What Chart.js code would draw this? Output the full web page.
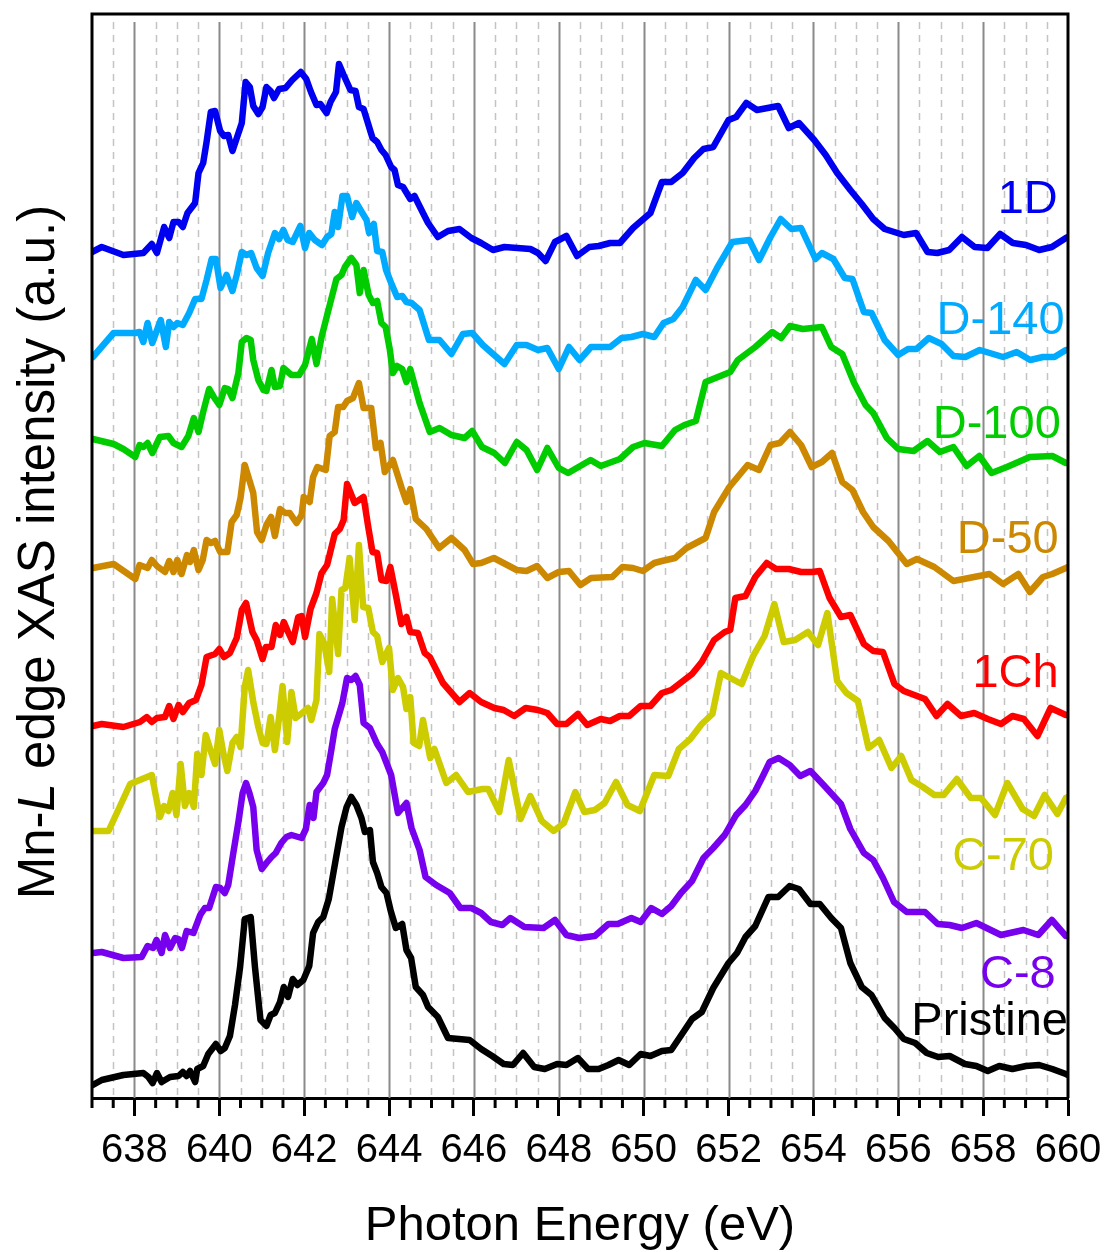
<!DOCTYPE html>
<html>
<head>
<meta charset="utf-8">
<title>Mn-L edge XAS</title>
<script src="https://cdn.jsdelivr.net/npm/chart.js@4.4.1/dist/chart.umd.min.js"></script>
<style>
  html, body { margin: 0; padding: 0; background: #fff; }
</style>
</head>
<body>
<canvas id="xas" width="1106" height="1252"></canvas>
<script>
// energy window and labelled ticks (eV)
const eMin = 637, eMax = 660;
const tickLabels = [638, 640, 642, 644, 646, 648, 650, 652, 654, 656, 658, 660];

// stacked spectra, [photon energy (eV), intensity (a.u., offset)]
const spec1D = [[637.00,8.46],[637.23,8.51],[637.74,8.43],[638.21,8.45],[638.41,8.54],[638.53,8.45],[638.70,8.71],[638.82,8.60],[638.92,8.76],[639.04,8.76],[639.14,8.71],[639.25,8.85],[639.43,8.95],[639.51,9.25],[639.62,9.35],[639.70,9.56],[639.80,9.86],[639.90,9.87],[640.02,9.67],[640.11,9.62],[640.21,9.63],[640.31,9.47],[640.53,9.75],[640.62,10.16],[640.72,10.11],[640.80,9.92],[640.92,9.84],[641.02,9.91],[641.11,10.11],[641.21,10.07],[641.29,10.00],[641.41,10.09],[641.56,10.10],[641.72,10.18],[641.92,10.26],[642.05,10.19],[642.16,10.06],[642.29,9.93],[642.38,9.94],[642.53,9.85],[642.62,9.96],[642.75,10.06],[642.82,10.34],[642.93,10.23],[643.09,10.08],[643.21,10.07],[643.29,9.91],[643.40,9.89],[643.61,9.60],[643.72,9.56],[643.82,9.48],[643.92,9.43],[644.05,9.31],[644.13,9.28],[644.21,9.13],[644.33,9.11],[644.50,8.99],[644.60,9.02],[644.80,8.85],[644.92,8.75],[645.15,8.61],[645.39,8.67],[645.66,8.69],[645.94,8.60],[646.17,8.55],[646.45,8.48],[646.72,8.51],[647.33,8.49],[647.51,8.45],[647.69,8.37],[647.91,8.56],[648.18,8.62],[648.43,8.42],[648.72,8.51],[648.94,8.52],[649.21,8.55],[649.44,8.55],[649.75,8.70],[650.16,8.85],[650.43,9.16],[650.65,9.16],[650.92,9.25],[651.19,9.40],[651.41,9.49],[651.64,9.51],[652.00,9.78],[652.18,9.81],[652.42,9.95],[652.67,9.88],[653.17,9.92],[653.42,9.70],[653.66,9.75],[654.02,9.58],[654.29,9.43],[654.56,9.25],[654.87,9.08],[655.14,8.94],[655.41,8.79],[655.68,8.69],[656.13,8.63],[656.42,8.65],[656.69,8.46],[656.92,8.45],[657.20,8.48],[657.50,8.61],[657.80,8.51],[658.10,8.50],[658.40,8.64],[658.70,8.55],[659.01,8.53],[659.32,8.48],[659.62,8.51],[659.95,8.60],[660.00,8.61]];

const specD140 = [[637.02,7.41],[637.51,7.65],[638.02,7.65],[638.12,7.66],[638.21,7.56],[638.31,7.75],[638.42,7.55],[638.62,7.78],[638.74,7.51],[638.82,7.76],[638.92,7.71],[639.01,7.75],[639.14,7.73],[639.29,7.85],[639.43,7.99],[639.58,7.99],[639.70,8.18],[639.82,8.39],[639.92,8.39],[640.03,8.10],[640.17,8.23],[640.31,8.07],[640.41,8.23],[640.53,8.46],[640.64,8.43],[640.75,8.45],[640.88,8.30],[641.02,8.22],[641.15,8.45],[641.31,8.65],[641.41,8.59],[641.51,8.68],[641.61,8.58],[641.73,8.56],[641.91,8.72],[642.02,8.50],[642.12,8.65],[642.25,8.58],[642.42,8.53],[642.54,8.61],[642.64,8.64],[642.72,8.86],[642.80,8.71],[642.90,9.02],[643.01,9.02],[643.13,8.81],[643.23,8.95],[643.37,8.85],[643.47,8.78],[643.53,8.65],[643.64,8.74],[643.72,8.47],[643.84,8.46],[643.93,8.28],[644.05,8.15],[644.19,8.01],[644.31,8.02],[644.41,7.96],[644.53,7.95],[644.72,7.88],[644.94,7.58],[645.19,7.58],[645.47,7.44],[645.74,7.64],[645.96,7.65],[646.21,7.53],[646.45,7.44],[646.72,7.34],[647.01,7.53],[647.24,7.53],[647.51,7.48],[647.73,7.50],[648.00,7.29],[648.24,7.51],[648.49,7.38],[648.76,7.51],[649.21,7.51],[649.48,7.60],[649.71,7.61],[649.98,7.64],[650.25,7.61],[650.47,7.75],[650.70,7.79],[650.92,7.91],[651.23,8.18],[651.46,8.08],[651.73,8.30],[652.09,8.56],[652.49,8.58],[652.72,8.38],[652.99,8.61],[653.23,8.79],[653.48,8.69],[653.71,8.70],[654.05,8.39],[654.20,8.45],[654.47,8.39],[654.74,8.20],[654.92,8.19],[655.19,7.86],[655.37,7.85],[655.68,7.58],[656.00,7.43],[656.23,7.49],[656.43,7.49],[656.72,7.60],[657.02,7.54],[657.30,7.42],[657.58,7.41],[657.92,7.48],[658.47,7.41],[658.79,7.46],[659.11,7.38],[659.41,7.41],[659.68,7.41],[659.95,7.48],[660.00,7.48]];

const specD100 = [[637.02,6.59],[637.51,6.54],[637.74,6.49],[638.02,6.41],[638.12,6.53],[638.21,6.51],[638.31,6.55],[638.42,6.45],[638.60,6.61],[638.80,6.62],[638.92,6.55],[639.11,6.51],[639.27,6.62],[639.40,6.80],[639.51,6.66],[639.62,6.86],[639.76,7.09],[639.87,7.01],[640.00,6.93],[640.13,7.10],[640.21,7.09],[640.31,7.00],[640.45,7.25],[640.53,7.56],[640.64,7.60],[640.74,7.58],[640.80,7.38],[640.92,7.18],[641.04,7.08],[641.11,7.07],[641.23,7.28],[641.31,7.11],[641.43,7.12],[641.51,7.30],[641.70,7.23],[641.88,7.23],[642.02,7.33],[642.18,7.59],[642.29,7.34],[642.41,7.61],[642.53,7.81],[642.76,8.19],[642.88,8.23],[642.96,8.31],[643.11,8.40],[643.23,8.33],[643.31,8.05],[643.40,8.28],[643.52,8.03],[643.62,7.95],[643.72,7.97],[643.82,7.75],[643.92,7.71],[644.02,7.48],[644.09,7.25],[644.19,7.32],[644.31,7.29],[644.41,7.16],[644.50,7.29],[644.72,6.95],[644.96,6.66],[645.19,6.70],[645.47,6.63],[645.78,6.60],[645.96,6.67],[646.19,6.51],[646.48,6.45],[646.73,6.35],[647.01,6.56],[647.24,6.48],[647.49,6.28],[647.73,6.50],[648.00,6.30],[648.22,6.25],[648.75,6.38],[648.99,6.32],[649.44,6.39],[649.75,6.51],[650.02,6.55],[650.43,6.52],[650.74,6.68],[650.96,6.73],[651.23,6.77],[651.46,7.16],[652.04,7.26],[652.22,7.38],[652.63,7.51],[653.03,7.66],[653.24,7.60],[653.45,7.72],[653.75,7.69],[654.20,7.71],[654.42,7.51],[654.68,7.44],[654.96,7.15],[655.23,6.93],[655.41,6.85],[655.73,6.60],[656.00,6.49],[656.36,6.47],[656.69,6.57],[656.98,6.46],[657.30,6.51],[657.61,6.32],[657.91,6.42],[658.20,6.25],[658.56,6.31],[659.10,6.41],[659.63,6.42],[659.95,6.35],[660.00,6.35]];

const specD50 = [[637.02,5.30],[637.51,5.34],[638.02,5.19],[638.12,5.33],[638.31,5.30],[638.41,5.38],[638.53,5.32],[638.72,5.26],[638.82,5.37],[638.92,5.26],[639.01,5.38],[639.11,5.24],[639.24,5.43],[639.31,5.36],[639.40,5.48],[639.51,5.28],[639.61,5.38],[639.70,5.58],[639.80,5.55],[639.90,5.57],[640.02,5.46],[640.19,5.46],[640.29,5.76],[640.41,5.83],[640.50,6.00],[640.60,6.33],[640.80,6.05],[640.89,5.66],[641.00,5.58],[641.11,5.73],[641.22,5.81],[641.31,5.62],[641.43,5.89],[641.55,5.85],[641.66,5.85],[641.82,5.75],[641.94,5.83],[641.99,6.01],[642.13,5.96],[642.21,6.21],[642.31,6.31],[642.51,6.28],[642.60,6.62],[642.72,6.66],[642.80,6.91],[642.92,6.91],[643.01,6.97],[643.15,7.00],[643.29,7.15],[643.40,6.90],[643.58,6.90],[643.69,6.50],[643.80,6.55],[643.90,6.26],[644.09,6.38],[644.29,6.11],[644.41,5.96],[644.50,6.09],[644.63,5.79],[644.88,5.69],[645.18,5.50],[645.47,5.60],[645.78,5.48],[645.98,5.34],[646.17,5.35],[646.47,5.40],[647.01,5.28],[647.24,5.27],[647.49,5.32],[647.73,5.20],[648.00,5.26],[648.24,5.27],[648.51,5.13],[648.76,5.20],[649.26,5.21],[649.50,5.31],[649.75,5.30],[649.98,5.27],[650.25,5.35],[650.43,5.37],[650.74,5.40],[651.01,5.50],[651.46,5.60],[651.66,5.86],[652.02,6.11],[652.45,6.33],[652.72,6.28],[652.99,6.53],[653.21,6.55],[653.45,6.66],[653.71,6.53],[653.96,6.31],[654.20,6.36],[654.44,6.45],[654.68,6.16],[654.92,6.08],[655.17,5.86],[655.41,5.71],[655.77,5.57],[656.20,5.34],[656.44,5.39],[656.85,5.31],[657.30,5.17],[658.15,5.24],[658.47,5.14],[658.83,5.24],[659.10,5.06],[659.41,5.21],[659.63,5.24],[659.95,5.30],[660.00,5.31]];

const spec1Ch = [[637.02,3.72],[637.23,3.74],[637.74,3.71],[638.13,3.76],[638.29,3.81],[638.41,3.76],[638.53,3.80],[638.72,3.81],[638.82,3.92],[638.92,3.79],[639.04,3.93],[639.14,3.86],[639.29,3.95],[639.45,3.98],[639.58,4.13],[639.70,4.41],[639.90,4.44],[640.00,4.49],[640.11,4.41],[640.25,4.45],[640.41,4.60],[640.53,4.88],[640.63,4.95],[640.78,4.66],[640.88,4.58],[641.02,4.39],[641.10,4.51],[641.23,4.51],[641.33,4.73],[641.43,4.63],[641.52,4.76],[641.62,4.66],[641.73,4.56],[641.86,4.81],[641.94,4.82],[642.02,4.61],[642.15,4.89],[642.29,5.05],[642.41,5.25],[642.54,5.33],[642.72,5.64],[642.84,5.69],[642.93,5.78],[643.01,6.14],[643.19,5.95],[643.40,6.01],[643.51,5.71],[643.61,5.46],[643.72,5.45],[643.82,5.18],[643.94,5.17],[644.03,5.31],[644.17,5.01],[644.29,4.74],[644.41,4.81],[644.50,4.66],[644.68,4.65],[644.84,4.45],[644.96,4.41],[645.27,4.15],[645.66,3.96],[645.90,4.05],[646.17,3.96],[646.48,3.90],[646.70,3.88],[646.95,3.82],[647.22,3.90],[647.51,3.88],[647.73,3.85],[647.96,3.74],[648.18,3.74],[648.45,3.84],[648.67,3.73],[648.99,3.79],[649.21,3.77],[649.44,3.82],[649.66,3.82],[649.93,3.92],[650.16,3.92],[650.43,4.05],[650.65,4.08],[651.14,4.24],[651.37,4.36],[651.66,4.58],[651.91,4.66],[652.04,4.68],[652.16,5.00],[652.40,5.02],[652.63,5.21],[652.90,5.35],[653.12,5.29],[653.42,5.29],[653.71,5.26],[653.97,5.26],[654.15,5.27],[654.38,5.00],[654.65,4.81],[654.87,4.83],[655.19,4.54],[655.41,4.47],[655.64,4.46],[655.91,4.14],[656.13,4.07],[656.63,3.99],[656.90,3.82],[657.16,3.94],[657.48,3.82],[657.79,3.85],[658.11,3.79],[658.42,3.74],[658.69,3.82],[658.96,3.79],[659.28,3.62],[659.59,3.90],[659.95,3.83],[660.00,3.83]];

const specC70 = [[637.02,2.67],[637.39,2.67],[637.90,3.14],[638.41,3.23],[638.60,2.81],[638.70,2.92],[638.80,2.87],[638.90,3.05],[638.99,2.83],[639.09,3.34],[639.19,2.92],[639.29,3.05],[639.40,2.91],[639.48,3.44],[639.58,3.23],[639.68,3.63],[639.79,3.48],[639.90,3.34],[640.00,3.68],[640.09,3.46],[640.19,3.27],[640.31,3.55],[640.41,3.61],[640.50,3.51],[640.60,4.11],[640.68,4.28],[640.80,3.96],[640.92,3.71],[641.02,3.55],[641.11,3.54],[641.21,3.81],[641.31,3.48],[641.41,3.81],[641.49,4.12],[641.60,3.56],[641.70,4.06],[641.80,3.80],[641.98,3.86],[642.09,3.90],[642.17,3.78],[642.29,3.98],[642.36,4.64],[642.47,4.55],[642.59,4.26],[642.66,4.99],[642.80,4.44],[642.88,5.08],[642.97,5.10],[643.07,5.40],[643.19,4.78],[643.29,5.53],[643.39,4.91],[643.51,4.90],[643.62,4.66],[643.72,4.62],[643.84,4.36],[644.00,4.50],[644.09,4.08],[644.21,4.20],[644.33,4.11],[644.41,3.89],[644.50,4.01],[644.58,3.55],[644.71,3.52],[644.80,3.78],[644.97,3.40],[645.07,3.49],[645.35,3.15],[645.58,3.23],[645.86,3.06],[646.20,3.09],[646.34,3.09],[646.60,2.86],[646.82,3.38],[647.10,2.79],[647.33,3.02],[647.60,2.77],[647.88,2.67],[648.12,2.75],[648.39,3.06],[648.60,2.86],[648.85,2.88],[649.08,2.95],[649.35,3.16],[649.62,2.93],[649.91,2.87],[650.25,3.23],[650.58,3.22],[650.83,3.49],[651.10,3.59],[651.37,3.74],[651.62,3.84],[651.82,4.25],[652.31,4.14],[652.58,4.42],[652.85,4.62],[653.08,4.94],[653.30,4.56],[653.57,4.58],[653.87,4.66],[654.11,4.53],[654.33,4.85],[654.56,4.17],[654.78,4.05],[655.05,3.97],[655.30,3.50],[655.55,3.58],[655.84,3.30],[656.07,3.42],[656.31,3.18],[656.58,3.11],[656.85,3.03],[657.07,3.03],[657.38,3.19],[657.71,3.00],[657.95,3.00],[658.28,2.83],[658.57,3.15],[658.93,2.89],[659.20,2.82],[659.45,3.03],[659.75,2.84],[659.95,3.00],[660.00,3.01]];

const specC8 = [[637.02,1.45],[637.23,1.46],[637.74,1.40],[638.17,1.41],[638.31,1.52],[638.44,1.50],[638.52,1.58],[638.64,1.45],[638.72,1.63],[638.84,1.50],[638.96,1.60],[639.04,1.59],[639.12,1.50],[639.23,1.67],[639.39,1.65],[639.55,1.83],[639.66,1.90],[639.76,1.90],[639.92,2.11],[640.02,2.10],[640.13,2.05],[640.21,2.13],[640.33,2.45],[640.45,2.76],[640.55,3.05],[640.63,3.15],[640.71,3.05],[640.80,2.91],[640.88,2.48],[641.00,2.29],[641.11,2.35],[641.23,2.41],[641.33,2.45],[641.46,2.55],[641.58,2.61],[641.70,2.63],[641.94,2.60],[642.04,2.69],[642.13,2.93],[642.22,2.80],[642.29,3.06],[642.45,3.15],[642.54,3.23],[642.64,3.48],[642.72,3.69],[642.90,3.95],[643.01,4.20],[643.11,4.18],[643.21,4.22],[643.31,4.13],[643.40,3.75],[643.55,3.70],[643.72,3.54],[643.84,3.46],[644.05,3.23],[644.21,2.85],[644.41,2.95],[644.53,2.70],[644.72,2.48],[644.86,2.21],[645.11,2.13],[645.43,2.05],[645.68,1.90],[645.94,1.90],[646.17,1.85],[646.40,1.76],[646.67,1.73],[646.86,1.80],[647.19,1.71],[647.64,1.70],[647.91,1.78],[648.18,1.63],[648.48,1.60],[648.85,1.62],[649.17,1.74],[649.39,1.74],[649.71,1.80],[649.93,1.76],[650.18,1.90],[650.43,1.84],[650.65,1.92],[650.88,2.05],[651.14,2.17],[651.41,2.40],[651.64,2.50],[651.91,2.63],[652.18,2.83],[652.40,2.93],[652.63,3.07],[652.81,3.22],[652.97,3.36],[653.18,3.40],[653.44,3.33],[653.69,3.22],[653.93,3.27],[654.24,3.13],[654.65,2.94],[654.87,2.69],[655.19,2.45],[655.41,2.38],[655.64,2.20],[655.90,1.96],[656.20,1.86],[656.63,1.86],[656.93,1.74],[657.21,1.73],[657.50,1.70],[657.84,1.75],[658.42,1.63],[658.95,1.68],[659.30,1.63],[659.62,1.78],[659.95,1.62],[660.00,1.62]];

const specPristine = [[637.02,0.13],[637.23,0.18],[637.74,0.23],[638.21,0.25],[638.33,0.21],[638.43,0.15],[638.53,0.25],[638.64,0.16],[638.84,0.21],[639.04,0.22],[639.14,0.26],[639.23,0.22],[639.31,0.27],[639.43,0.16],[639.48,0.29],[639.62,0.32],[639.74,0.44],[639.92,0.54],[640.03,0.47],[640.13,0.50],[640.25,0.62],[640.37,0.93],[640.49,1.31],[640.60,1.79],[640.74,1.81],[640.84,1.31],[640.97,0.78],[641.11,0.72],[641.21,0.83],[641.31,0.85],[641.43,0.96],[641.52,1.11],[641.62,1.01],[641.73,1.19],[641.84,1.13],[641.98,1.18],[642.12,1.32],[642.21,1.65],[642.33,1.76],[642.45,1.81],[642.58,1.99],[642.75,2.40],[642.88,2.71],[643.00,2.91],[643.11,3.01],[643.23,2.93],[643.35,2.80],[643.43,2.66],[643.55,2.68],[643.62,2.36],[643.72,2.25],[643.82,2.11],[643.94,2.05],[644.04,1.87],[644.16,1.70],[644.31,1.74],[644.41,1.48],[644.52,1.40],[644.63,1.11],[644.80,1.03],[644.92,0.91],[645.15,0.81],[645.39,0.60],[645.90,0.58],[646.17,0.49],[646.43,0.42],[646.70,0.34],[646.92,0.33],[647.16,0.45],[647.42,0.31],[647.67,0.29],[647.96,0.34],[648.18,0.33],[648.45,0.40],[648.69,0.29],[648.94,0.29],[649.17,0.33],[649.41,0.38],[649.66,0.33],[649.93,0.44],[650.16,0.42],[650.43,0.47],[650.65,0.48],[650.92,0.65],[651.14,0.79],[651.37,0.86],[651.64,1.10],[652.00,1.35],[652.20,1.45],[652.40,1.61],[652.63,1.72],[652.94,2.01],[653.17,2.01],[653.44,2.12],[653.66,2.09],[653.93,1.94],[654.15,1.94],[654.42,1.80],[654.65,1.70],[654.87,1.35],[655.14,1.11],[655.37,1.03],[655.68,0.80],[655.91,0.70],[656.13,0.59],[656.40,0.55],[656.67,0.45],[656.94,0.41],[657.21,0.42],[657.57,0.34],[657.84,0.32],[658.11,0.27],[658.38,0.32],[658.69,0.29],[659.01,0.32],[659.32,0.33],[659.63,0.29],[659.95,0.24],[660.00,0.23]];

const sampleNames = ['1D', 'D-140', 'D-100', 'D-50', '1Ch', 'C-70', 'C-8', 'Pristine'];
const sampleColors = ['#0000f0', '#00aaff', '#00cc00', '#cc8800', '#ff0000', '#cccc00', '#7700ee', '#000000'];
const sampleSpectra = [spec1D, specD140, specD100, specD50, spec1Ch, specC70, specC8, specPristine];

// where each sample name sits (right-aligned), in data units
const nameSpots = [
  { x: 659.76, y: 8.85 },
  { x: 659.92, y: 7.64 },
  { x: 659.83, y: 6.60 },
  { x: 659.78, y: 5.45 },
  { x: 659.78, y: 4.11 },
  { x: 659.67, y: 2.28 },
  { x: 659.71, y: 1.10 },
  { x: 660.00, y: 0.63 }
];

const FONT = "'Liberation Sans', Arial, Helvetica, sans-serif";

// frame, grid, minor ticks, axis titles and sample names
const decorations = {
  id: 'decorations',
  beforeDatasetsDraw(chart) {
    const { ctx, chartArea: a, scales: { x } } = chart;
    ctx.save();
    for (let v = eMin + 0.5; v < eMax; v += 0.5) {
      const px = Math.round(x.getPixelForValue(v)) + 0.5;
      ctx.beginPath();
      if (v % 2 === 0) {
        ctx.setLineDash([]);
        ctx.strokeStyle = '#8a8a8a';
        ctx.lineWidth = 2;
      } else {
        ctx.setLineDash([7, 6]);
        ctx.strokeStyle = '#c4c4c4';
        ctx.lineWidth = 1.5;
      }
      ctx.moveTo(px, a.top + 8);
      ctx.lineTo(px, a.bottom);
      ctx.stroke();
    }
    ctx.restore();
  },
  afterDatasetsDraw(chart) {
    const { ctx, chartArea: a, scales: { x, y } } = chart;
    ctx.save();
    // frame on left, top and right
    ctx.strokeStyle = '#000';
    ctx.lineWidth = 3;
    ctx.beginPath();
    ctx.moveTo(a.left, a.bottom);
    ctx.lineTo(a.left, a.top);
    ctx.lineTo(a.right, a.top);
    ctx.lineTo(a.right, a.bottom);
    ctx.stroke();

    // minor ticks every 0.5 eV
    for (let v = eMin; v <= eMax; v += 0.5) {
      if (v % 2 === 0) continue;
      const px = x.getPixelForValue(v);
      ctx.beginPath();
      ctx.moveTo(px, a.bottom);
      ctx.lineTo(px, a.bottom + 10);
      ctx.stroke();
    }

    // sample names
    ctx.font = '47px ' + FONT;
    ctx.textAlign = 'right';
    ctx.textBaseline = 'alphabetic';
    sampleNames.forEach((name, i) => {
      ctx.fillStyle = sampleColors[i];
      ctx.fillText(name, x.getPixelForValue(nameSpots[i].x), y.getPixelForValue(nameSpots[i].y));
    });

    // x title
    ctx.fillStyle = '#000';
    ctx.font = '49px ' + FONT;
    ctx.textAlign = 'center';
    ctx.fillText('Photon Energy (eV)', (a.left + a.right) / 2, 1240);

    // y title, with an italic L
    const parts = [
      ['Mn-', 'normal'],
      ['L', 'italic'],
      [' edge XAS intensity (a.u.)', 'normal']
    ];
    const size = 51;
    let total = 0;
    parts.forEach(p => {
      ctx.font = p[1] + ' ' + size + 'px ' + FONT;
      p.push(ctx.measureText(p[0]).width);
      total += p[2];
    });
    ctx.translate(54, (a.top + a.bottom) / 2 - 4);
    ctx.rotate(-Math.PI / 2);
    ctx.textAlign = 'left';
    let cx = -total / 2;
    parts.forEach(p => {
      ctx.font = p[1] + ' ' + size + 'px ' + FONT;
      ctx.fillText(p[0], cx, 0);
      cx += p[2];
    });
    ctx.restore();
  }
};

new Chart(document.getElementById('xas'), {
  type: 'line',
  data: {
    datasets: sampleSpectra.map((spec, i) => ({
      label: sampleNames[i],
      data: spec.map(([e, v]) => ({ x: e, y: v })),
      borderColor: sampleColors[i],
      borderWidth: 6.5,
      borderJoinStyle: 'round',
      borderCapStyle: 'round',
      pointRadius: 0,
      tension: 0,
      fill: false
    }))
  },
  options: {
    responsive: false,
    animation: false,
    devicePixelRatio: 1,
    layout: { autoPadding: false, padding: { left: 92, right: 38, top: 14, bottom: 0 } },
    plugins: { legend: { display: false }, tooltip: { enabled: false } },
    scales: {
      x: {
        type: 'linear',
        min: eMin,
        max: eMax,
        afterBuildTicks: axis => { axis.ticks = tickLabels.map(v => ({ value: v })); },
        afterFit: axis => {
          axis.height = 154;
          axis.paddingLeft = 0;
          axis.paddingRight = 0;
        },
        grid: {
          drawOnChartArea: false,
          drawTicks: true,
          tickLength: 18,
          tickWidth: 3,
          tickColor: '#000'
        },
        border: { display: true, color: '#000', width: 3 },
        ticks: {
          autoSkip: false,
          maxRotation: 0,
          padding: 11,
          color: '#000',
          font: { family: FONT, size: 40 }
        }
      },
      y: {
        type: 'linear',
        min: 0,
        max: 10.84,
        display: false
      }
    }
  },
  plugins: [decorations]
});
</script>
</body>
</html>
